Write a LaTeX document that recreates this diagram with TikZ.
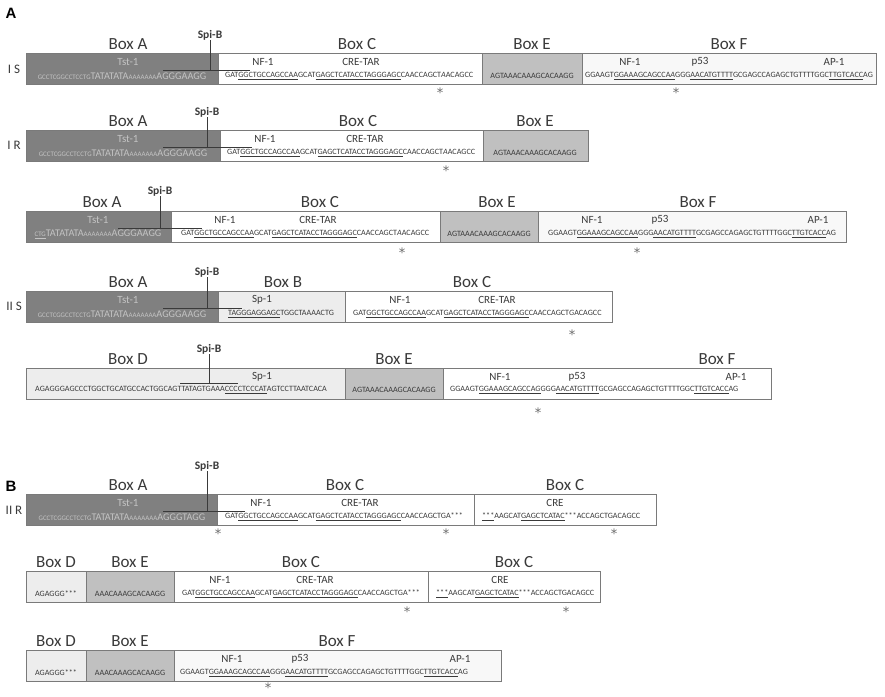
\documentclass[tikz,border=0pt]{standalone}
\usepackage{fontspec}
\setmainfont{Carlito}
\newfontfamily\arialfont{Liberation Sans}
\newfontfamily\starfont{DejaVu Sans}
\definecolor{boxa}{HTML}{808080}
\definecolor{boxe}{HTML}{C0C0C0}
\definecolor{boxd}{HTML}{EDEDED}
\definecolor{boxf}{HTML}{F8F8F8}
\definecolor{edge}{HTML}{7A7A7A}
\definecolor{txt}{HTML}{3A3A3A}
\definecolor{atxt}{HTML}{C4C4C4}
\newcommand{\mot}[1]{\underline{#1}}
\newcommand{\seqsmall}[1]{{\fontsize{6.9}{7}\selectfont #1}}
\newcommand{\seqbig}[1]{{\fontsize{10.2}{10}\selectfont #1}}
\begin{document}
\begin{tikzpicture}
            [x=1pt,y=-1pt,
            box/.style={draw=edge,line width=0.9pt,inner sep=0pt,outer sep=0pt,anchor=north west,minimum height=31pt},
            boxlbl/.style={font=\fontsize{17}{17}\selectfont,text=txt,inner sep=0pt},
            motif/.style={font=\fontsize{11}{11}\selectfont,text=txt,inner sep=0pt},
            seq/.style={font=\fontsize{8.1}{8}\selectfont,text=txt,inner sep=0pt},
            seqa/.style={text=atxt,inner sep=0pt},
            spib/.style={font=\bfseries\fontsize{11.5}{11}\selectfont,text=txt,inner sep=0pt},
            spiline/.style={draw=txt,line width=0.9pt},
            star/.style={font=\starfont\fontsize{13}{13}\selectfont,text=txt!75,inner sep=0pt},
            rowlbl/.style={font=\fontsize{13}{13}\selectfont,text=txt,inner sep=0pt}]
            \useasboundingbox[fill=white] (0,0) rectangle (885,696);
            \node[font=\arialfont\bfseries\fontsize{15}{15}\selectfont,inner sep=0pt] (pA) at (11,13) {A};
            % row I S
            \node[rowlbl] (isRow) at (14,69) {I S};
            \node[box,fill=boxa,minimum width=192pt] (isA) at (26,53) {};
            \node[box,fill=white,minimum width=264pt] (isC) at (218,53) {};
            \node[box,fill=boxe,minimum width=100pt] (isE) at (482,53) {};
            \node[box,fill=boxf,minimum width=294pt] (isF) at (582,53) {};
            \node[boxlbl] (isLa) at (128,44) {Box A};
            \node[boxlbl] (isLc) at (357,44) {Box C};
            \node[boxlbl] (isLe) at (532,44) {Box E};
            \node[boxlbl] (isLf) at (729,44) {Box F};
            \node[spib] (isSpi) at (210,35) {Spi-B};
            \coordinate (isL) at (163,70);
            \coordinate (isR) at (250,70);
            \node[motif,text=atxt] (isTst) at (128,62) {Tst-1};
            \node[motif] (isNf) at (263,62) {NF-1};
            \node[motif] (isCre) at (361,62) {CRE-TAR};
            \node[motif] (isNf2) at (630,62) {NF-1};
            \node[motif] (isP53) at (700,62) {p53};
            \node[motif] (isAp) at (834,62) {AP-1};
            \node[seqa] (isSa) at (122,76) {\seqsmall{GCCTCGGCCTCCTG}\seqbig{TATATATA}\seqsmall{AAAAAAA}\seqbig{AGGGAAGG}};
            \node[seq,anchor=west] (isSc) at (225,76) {GAT\mot{GGCTGCCAGCCAA}GCAT\mot{GAGCTCATACCTAGGGAGC}CAACCAGCT\textit{A}ACAGCC};
            \node[seq] (isSe) at (532,76) {AGTAAACAAAGCACAAGG};
            \node[seq,anchor=west] (isSf) at (585,76) {GGAAGT\mot{GGAAAGCAGCCA\textit{A}}GGG\mot{AACATGTTTT}GCGAGCCAGAGCTGTTTTGGC\mot{TTGTCACC}AG};
            \node[star] (isSt1) at (440,93) {*};
            \node[star] (isSt2) at (676,93) {*};
            \draw[spiline] (isSpi.south) -- (isSpi.south |- isL);
            \draw[spiline] (isL) -- (isR);
            % row I R
            \node[rowlbl] (irRow) at (14,145) {I R};
            \node[box,fill=boxa,minimum width=194pt] (irA) at (26,130) {};
            \node[box,fill=white,minimum width=263pt] (irC) at (220,130) {};
            \node[box,fill=boxe,minimum width=105pt] (irE) at (483,130) {};
            \node[boxlbl] (irLa) at (128,121) {Box A};
            \node[boxlbl] (irLc) at (358,121) {Box C};
            \node[boxlbl] (irLe) at (535,121) {Box E};
            \node[spib] (irSpi) at (207,112) {Spi-B};
            \coordinate (irL) at (163,147);
            \coordinate (irR) at (252,147);
            \node[motif,text=atxt] (irTst) at (128,139) {Tst-1};
            \node[motif] (irNf) at (265,139) {NF-1};
            \node[motif] (irCre) at (365,139) {CRE-TAR};
            \node[seqa] (irSa) at (123,153) {\seqsmall{GCCTCGGCCTCCTG}\seqbig{TATATATA}\seqsmall{AAAAAAA}\seqbig{AGGGAAGG}};
            \node[seq,anchor=west] (irSc) at (227,153) {GAT\mot{GGCTGCCAGCCAA}GCAT\mot{GAGCTCATACCTAGGGAGC}CAACCAGCT\textit{A}ACAGCC};
            \node[seq] (irSe) at (535,153) {AGTAAACAAAGCACAAGG};
            \node[star] (irSt) at (446,171) {*};
            \draw[spiline] (irSpi.south) -- (irSpi.south |- irL);
            \draw[spiline] (irL) -- (irR);
            % third row
            \node[box,fill=boxa,minimum width=145pt] (r3A) at (26,211) {};
            \node[box,fill=white,minimum width=269pt] (r3C) at (171,211) {};
            \node[box,fill=boxe,minimum width=98pt] (r3E) at (440,211) {};
            \node[box,fill=boxf,minimum width=308pt] (r3F) at (538,211) {};
            \node[boxlbl] (r3La) at (102,202) {Box A};
            \node[boxlbl] (r3Lc) at (320,202) {Box C};
            \node[boxlbl] (r3Le) at (497,202) {Box E};
            \node[boxlbl] (r3Lf) at (698,202) {Box F};
            \node[spib] (r3Spi) at (160,191) {Spi-B};
            \coordinate (r3L) at (118,228);
            \coordinate (r3R) at (202,228);
            \node[motif,text=atxt] (r3Tst) at (98,220) {Tst-1};
            \node[motif] (r3Nf) at (225,220) {NF-1};
            \node[motif] (r3Cre) at (318,220) {CRE-TAR};
            \node[motif] (r3Nf2) at (592,220) {NF-1};
            \node[motif] (r3P53) at (660,220) {p53};
            \node[motif] (r3Ap) at (818,220) {AP-1};
            \node[seqa] (r3Sa) at (98,234) {\seqsmall{\mot{CTG}}\seqbig{TATATATA}\seqsmall{AAAAAAA}\seqbig{AGGGAAGG}};
            \node[seq,anchor=west] (r3Sc) at (181,234) {GAT\mot{GGCTGCCAGCCAA}GCAT\mot{GAGCTCATACCTAGGGAGC}CAACCAGCT\textit{A}ACAGCC};
            \node[seq] (r3Se) at (489,234) {AGTAAACAAAGCACAAGG};
            \node[seq,anchor=west] (r3Sf) at (548,234) {GGAAGT\mot{GGAAAGCAGCCA\textit{A}}GGG\mot{AACATGTTTT}GCGAGCCAGAGCTGTTTTGGC\mot{TTGTCACC}AG};
            \node[star] (r3St1) at (402,253) {*};
            \node[star] (r3St2) at (637,253) {*};
            \draw[spiline] (r3Spi.south) -- (r3Spi.south |- r3L);
            \draw[spiline] (r3L) -- (r3R);
            % row II S
            \node[rowlbl] (iisRow) at (14,306) {II S};
            \node[box,fill=boxa,minimum width=192pt] (iisA) at (26,291) {};
            \node[box,fill=boxd,minimum width=127pt] (iisB) at (218,291) {};
            \node[box,fill=white,minimum width=267pt] (iisC) at (345,291) {};
            \node[boxlbl] (iisLa) at (128,282) {Box A};
            \node[boxlbl] (iisLb) at (283,282) {Box B};
            \node[boxlbl] (iisLc) at (472,282) {Box C};
            \node[spib] (iisSpi) at (207,272) {Spi-B};
            \coordinate (iisL) at (163,308);
            \coordinate (iisR) at (242,308);
            \node[motif,text=atxt] (iisTst) at (128,300) {Tst-1};
            \node[motif] (iisSp) at (262,300) {Sp-1};
            \node[motif] (iisNf) at (400,300) {NF-1};
            \node[motif] (iisCre) at (497,300) {CRE-TAR};
            \node[seqa] (iisSa) at (122,314) {\seqsmall{GCCTCGGCCTCCTG}\seqbig{TATATATA}\seqsmall{AAAAAAA}\seqbig{AGGGAAGG}};
            \node[seq,anchor=west] (iisSb) at (228,314) {\mot{TAGGGAGGAGC}TGGCTAAAACTG};
            \node[seq,anchor=west] (iisSc) at (353,314) {GAT\mot{GGCTGCCAGCCAA}GCAT\mot{GAGCTCATACCTAGGGAGC}CAACCAGCT\textit{G}ACAGCC};
            \node[star] (iisSt) at (572,335) {*};
            \draw[spiline] (iisSpi.south) -- (iisSpi.south |- iisL);
            \draw[spiline] (iisL) -- (iisR);
            % fifth row
            \node[box,fill=boxd,minimum width=319pt] (r5D) at (26,368) {};
            \node[box,fill=boxe,minimum width=98pt] (r5E) at (345,368) {};
            \node[box,fill=white,minimum width=328pt] (r5F) at (443,368) {};
            \node[boxlbl] (r5Ld) at (128,359) {Box D};
            \node[boxlbl] (r5Le) at (394,359) {Box E};
            \node[boxlbl] (r5Lf) at (717,359) {Box F};
            \node[spib] (r5Spi) at (209,349) {Spi-B};
            \coordinate (r5L) at (180,383);
            \coordinate (r5R) at (238,383);
            \node[motif] (r5Sp) at (262,377) {Sp-1};
            \node[motif] (r5Nf) at (500,377) {NF-1};
            \node[motif] (r5P53) at (577,377) {p53};
            \node[motif] (r5Ap) at (736,377) {AP-1};
            \node[seq,anchor=west] (r5Sd) at (35,390) {AGAGGGAGCCCTGGCTGCATGCCACTGGCAGTTATAGTGAAA\mot{CCCCTCCCAT}AGTCCTTAATCACA};
            \node[seq] (r5Se) at (394,390) {AGTAAACAAAGCACAAGG};
            \node[seq,anchor=west] (r5Sf) at (450,390) {GGAAGT\mot{GGAAAGCAGCCA\textit{G}}GGG\mot{AACATGTTTT}GCGAGCCAGAGCTGTTTTGGC\mot{TTGTCACC}AG};
            \node[star] (r5St) at (538,413) {*};
            \draw[spiline] (r5Spi.south) -- (r5Spi.south |- r5L);
            \draw[spiline] (r5L) -- (r5R);
            \node[font=\arialfont\bfseries\fontsize{15}{15}\selectfont,inner sep=0pt] (pB) at (11,486) {B};
            % row II R
            \node[rowlbl] (iirRow) at (14,510) {II R};
            \node[box,fill=boxa,minimum width=191pt] (iirA) at (26,494) {};
            \node[box,fill=white,minimum width=257pt] (iirC) at (217,494) {};
            \node[box,fill=white,minimum width=182pt] (iirC2) at (474,494) {};
            \node[boxlbl] (iirLa) at (128,485) {Box A};
            \node[boxlbl] (iirLc) at (345,485) {Box C};
            \node[boxlbl] (iirLc2) at (565,485) {Box C};
            \node[spib] (iirSpi) at (207,466) {Spi-B};
            \coordinate (iirL) at (163,511);
            \coordinate (iirR) at (245,511);
            \node[motif,text=atxt] (iirTst) at (128,503) {Tst-1};
            \node[motif] (iirNf) at (261,503) {NF-1};
            \node[motif] (iirCre) at (360,503) {CRE-TAR};
            \node[motif] (iirCre2) at (555,503) {CRE};
            \node[seqa] (iirSa) at (122,517) {\seqsmall{GCCTCGGCCTCCTG}\seqbig{TATATATA}\seqsmall{AAAAAAA}\seqbig{AGGGTAGG}};
            \node[seq,anchor=west] (iirSc) at (225,517) {GAT\mot{GGCTGCCAGCCAA}GCAT\mot{GAGCTCATACCTAGGGAGC}CAACCAGCTGA***};
            \node[seq,anchor=west] (iirSc2) at (482,517) {\mot{***}AAGCAT\mot{GAGCTCATAC}***ACCAGCTGACAGCC};
            \node[star] (iirSt1) at (218,534) {*};
            \node[star] (iirSt2) at (446,534) {*};
            \node[star] (iirSt3) at (614,534) {*};
            \draw[spiline] (iirSpi.south) -- (iirSpi.south |- iirL);
            \draw[spiline] (iirL) -- (iirR);
            % seventh row
            \node[box,fill=boxd,minimum width=60pt] (r7D) at (26,571) {};
            \node[box,fill=boxe,minimum width=88pt] (r7E) at (86,571) {};
            \node[box,fill=white,minimum width=254pt] (r7C) at (174,571) {};
            \node[box,fill=white,minimum width=172pt] (r7C2) at (428,571) {};
            \node[boxlbl] (r7Ld) at (56,562) {Box D};
            \node[boxlbl] (r7Le) at (130,562) {Box E};
            \node[boxlbl] (r7Lc) at (301,562) {Box C};
            \node[boxlbl] (r7Lc2) at (514,562) {Box C};
            \node[motif] (r7Nf) at (220,580) {NF-1};
            \node[motif] (r7Cre) at (315,580) {CRE-TAR};
            \node[motif] (r7Cre2) at (500,580) {CRE};
            \node[seq] (r7Sd) at (56,594) {AGAGGG***};
            \node[seq] (r7Se) at (130,594) {AAACAAAGCACAAGG};
            \node[seq,anchor=west] (r7Sc) at (182,594) {GAT\mot{GGCTGCCAGCCAA}GCAT\mot{GAGCTCATACCTAGGGAGC}CAACCAGCTGA***};
            \node[seq,anchor=west] (r7Sc2) at (436,594) {\mot{***}AAGCAT\mot{GAGCTCATAC}***ACCAGCTGACAGCC};
            \node[star] (r7St1) at (407,612) {*};
            \node[star] (r7St2) at (566,612) {*};
            % eighth row
            \node[box,fill=boxd,minimum width=60pt] (r8D) at (26,650) {};
            \node[box,fill=boxe,minimum width=88pt] (r8E) at (86,650) {};
            \node[box,fill=boxf,minimum width=327pt] (r8F) at (174,650) {};
            \node[boxlbl] (r8Ld) at (56,641) {Box D};
            \node[boxlbl] (r8Le) at (130,641) {Box E};
            \node[boxlbl] (r8Lf) at (337,641) {Box F};
            \node[motif] (r8Nf) at (232,659) {NF-1};
            \node[motif] (r8P53) at (300,659) {p53};
            \node[motif] (r8Ap) at (460,659) {AP-1};
            \node[seq] (r8Sd) at (56,673) {AGAGGG***};
            \node[seq] (r8Se) at (130,673) {AAACAAAGCACAAGG};
            \node[seq,anchor=west] (r8Sf) at (180,673) {GGAAGT\mot{GGAAAGCAGCCA\textit{A}}GGG\mot{AACATGTTTT}GCGAGCCAGAGCTGTTTTGGC\mot{TTGTCACC}AG};
            \node[star] (r8St) at (268,688) {*};
        \end{tikzpicture}
\end{document}
